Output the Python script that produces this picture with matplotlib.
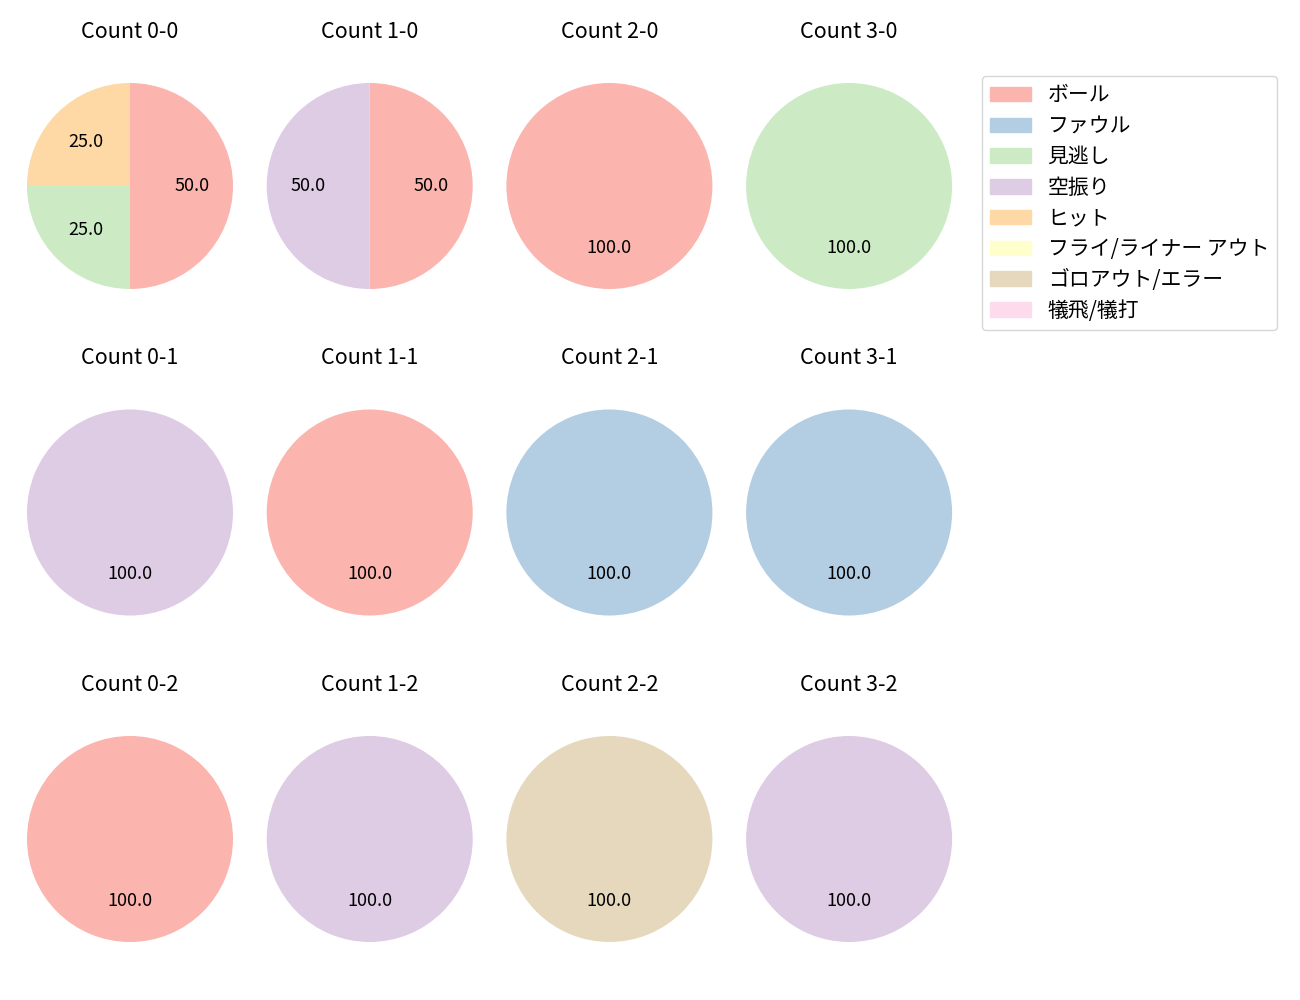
import matplotlib.pyplot as plt
from matplotlib.patches import Patch

plt.rcParams['font.family'] = ['Noto Sans CJK JP', 'DejaVu Sans']

# 結果カテゴリ
labels = ['ボール', 'ファウル', '見逃し', '空振り', 'ヒット',
          'フライ/ライナー アウト', 'ゴロアウト/エラー', '犠飛/犠打']
colors = ['#fbb4ae', '#b3cde3', '#ccebc5', '#decbe4',
          '#fed9a6', '#ffffcc', '#e5d8bd', '#fddaec']

# カウントごとの件数 (ボール-ストライク)
balls = [0, 1, 2, 3]
strikes = [0, 1, 2]
counts = {
    '0-0': [2, 0, 1, 0, 1, 0, 0, 0],
    '1-0': [1, 0, 0, 1, 0, 0, 0, 0],
    '2-0': [1, 0, 0, 0, 0, 0, 0, 0],
    '3-0': [0, 0, 1, 0, 0, 0, 0, 0],
    '0-1': [0, 0, 0, 1, 0, 0, 0, 0],
    '1-1': [1, 0, 0, 0, 0, 0, 0, 0],
    '2-1': [0, 1, 0, 0, 0, 0, 0, 0],
    '3-1': [0, 1, 0, 0, 0, 0, 0, 0],
    '0-2': [1, 0, 0, 0, 0, 0, 0, 0],
    '1-2': [0, 0, 0, 1, 0, 0, 0, 0],
    '2-2': [0, 0, 0, 0, 0, 0, 1, 0],
    '3-2': [0, 0, 0, 1, 0, 0, 0, 0],
}

W, H = 1300, 1000
fig = plt.figure(figsize=(13, 10), dpi=100)

side = 257.5  # px, 半径103px (軸範囲 +-1.25)
for r, s in enumerate(strikes):
    for c, b in enumerate(balls):
        key = f'{b}-{s}'
        cx = 130 + 239.7 * c
        cy = 186 + 326.5 * r
        ax = fig.add_axes([(cx - side / 2) / W, 1 - (cy + side / 2) / H, side / W, side / H])
        vals = counts[key]
        v = [x for x in vals if x > 0]
        col = [colors[i] for i, x in enumerate(vals) if x > 0]
        ax.pie(v, colors=col, autopct='%.1f', startangle=90, counterclock=False,
               textprops={'fontsize': 13})
        ax.set_title(f'Count {key}', fontsize=15.5, pad=14)

handles = [Patch(color=col) for col in colors]
fig.legend(handles, labels, loc='upper left', bbox_to_anchor=(982 / W, 1 - 76 / H),
           borderaxespad=0, fontsize=15, labelspacing=0.42, handlelength=1.95)

fig.savefig('out.png')
